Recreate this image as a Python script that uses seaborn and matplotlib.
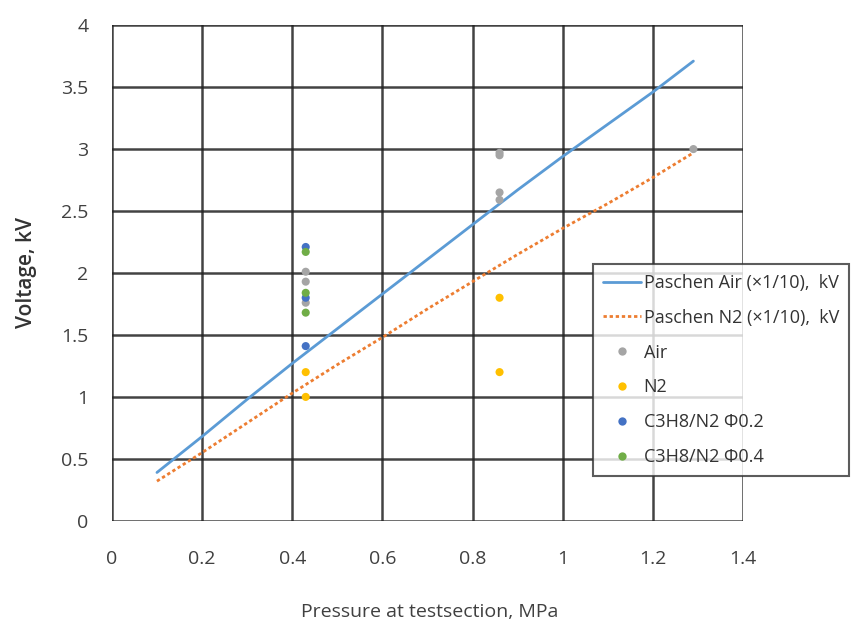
import matplotlib
matplotlib.use("Agg")
import matplotlib.pyplot as plt
import seaborn as sns
import pandas as pd
from matplotlib.lines import Line2D

# Paschen curves (x1/10)
paschen_p = [0.1, 0.2, 0.3, 0.4, 0.5, 0.6, 0.7, 0.8, 0.9, 1.0, 1.1, 1.2, 1.29]
paschen_air = [0.39, 0.68, 0.98, 1.27, 1.55, 1.83, 2.11, 2.39, 2.67, 2.94, 3.20, 3.46, 3.71]
paschen_n2 = [0.32, 0.55, 0.79, 1.03, 1.26, 1.48, 1.71, 1.93, 2.15, 2.36, 2.56, 2.77, 2.97]

# Measurements
air_p = [0.43, 0.43, 0.43, 0.86, 0.86, 0.86, 0.86, 1.29]
air_v = [2.01, 1.93, 1.76, 2.97, 2.95, 2.65, 2.59, 3.00]
n2_p = [0.43, 0.43, 0.86, 0.86]
n2_v = [1.20, 1.00, 1.80, 1.20]
c02_p = [0.43, 0.43, 0.43]
c02_v = [2.21, 1.80, 1.41]
c04_p = [0.43, 0.43, 0.43]
c04_v = [2.17, 1.84, 1.68]

x_ticks = [0, 0.2, 0.4, 0.6, 0.8, 1, 1.2, 1.4]
x_tick_labels = ["0", "0.2", "0.4", "0.6", "0.8", "1", "1.2", "1.4"]
y_ticks = [0, 0.5, 1, 1.5, 2, 2.5, 3, 3.5, 4]
y_tick_labels = ["0", "0.5", "1", "1.5", "2", "2.5", "3", "3.5", "4"]

sns.set_theme(style="white")
plt.rcParams['font.family'] = ['Open Sans', 'DejaVu Sans']

fig = plt.figure(figsize=(8.54, 6.29), dpi=100)
ax = fig.add_axes([0.131, 0.172, 0.739, 0.788])

lines_df = pd.DataFrame({"p": paschen_p, "air": paschen_air, "n2": paschen_n2})
sns.lineplot(data=lines_df, x="p", y="air", ax=ax, color="#5B9BD5", lw=2, zorder=3)
sns.lineplot(data=lines_df, x="p", y="n2", ax=ax, color="#ED7D31", lw=2,
             linestyle=(0, (1.2, 1.0)), zorder=3)

groups = [("Air", air_p, air_v, "#A5A5A5"),
          ("N2", n2_p, n2_v, "#FFC000"),
          ("C3H8/N2 \u03A60.2", c02_p, c02_v, "#4472C4"),
          ("C3H8/N2 \u03A60.4", c04_p, c04_v, "#70AD47")]
for name, ps, vs, col in groups:
    df = pd.DataFrame({"p": ps, "v": vs})
    sns.scatterplot(data=df, x="p", y="v", ax=ax, color=col, s=34,
                    edgecolor="none", zorder=4)

ax.set_xlim(0, 1.4)
ax.set_ylim(0, 4)
ax.set_xticks(x_ticks)
ax.set_xticklabels(x_tick_labels)
ax.set_yticks(y_ticks)
ax.set_yticklabels(y_tick_labels)
ax.grid(True, color="#222222", lw=1.8, alpha=0.85)
for s in ax.spines.values():
    s.set_visible(False)
ax.tick_params(axis="x", labelsize=14, colors="#404040", length=0, pad=21)
ax.tick_params(axis="y", labelsize=14, colors="#404040", length=0, pad=17)
ax.set_xlabel("Pressure at testsection, MPa", fontsize=14, color="#404040")
ax.set_ylabel("Voltage, kV", fontsize=15, color="#333333", fontweight="semibold")
ax.xaxis.set_label_coords(0.504, -0.183)
ax.xaxis.label.set_va("center")
ax.yaxis.set_label_coords(-0.136, 0.5)
ax.yaxis.label.set_va("center")

handles = [
    Line2D([], [], color="#5B9BD5", lw=2),
    Line2D([], [], color="#ED7D31", lw=2, linestyle=(0, (1.2, 1.0))),
]
for name, ps, vs, col in groups:
    handles.append(Line2D([], [], marker="o", linestyle="none", color=col,
                          markersize=6, markeredgewidth=0))
labels = ["Paschen Air (\u00d71/10),  kV", "Paschen N2 (\u00d71/10),  kV"] + [g[0] for g in groups]
leg = fig.legend(handles, labels, loc="upper left", bbox_to_anchor=(593/854, 1-264/629),
                 frameon=True, fancybox=False, fontsize=13, handlelength=2.1,
                 handletextpad=0.15, labelspacing=0.93, borderpad=0.55,
                 borderaxespad=0)
leg.get_frame().set_edgecolor("#333333")
leg.get_frame().set_linewidth(1.5)
for t in leg.get_texts():
    t.set_color("#333333")

fig.savefig("out.png", dpi=100)
